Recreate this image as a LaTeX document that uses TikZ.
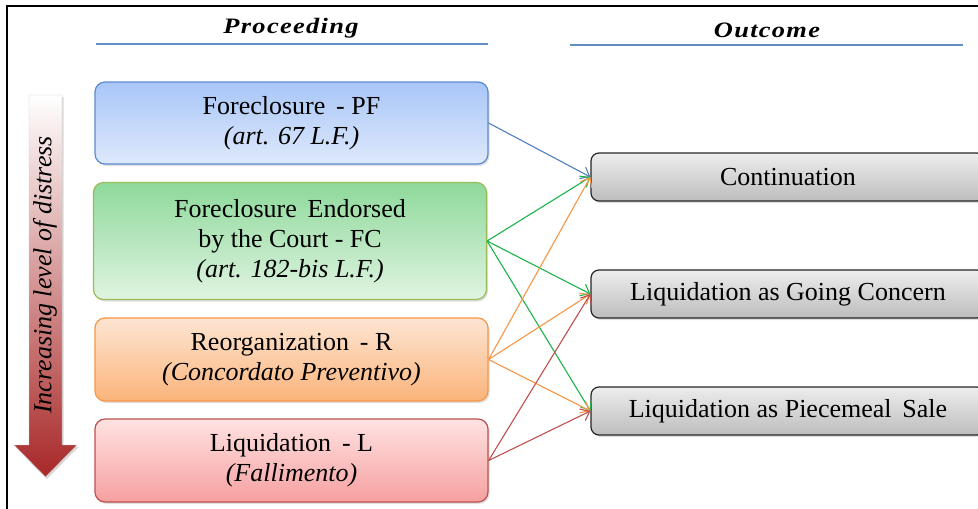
\documentclass[tikz,border=0pt]{standalone}
\usepackage{fontspec}
\setmainfont{Liberation Serif}
\usetikzlibrary{arrows.meta,shadows}
\definecolor{pfB}{HTML}{5B8BD0}
\definecolor{pfT}{HTML}{A8C6F7}
\definecolor{pfD}{HTML}{DEE9FC}
\definecolor{fcB}{HTML}{9BBB59}
\definecolor{fcT}{HTML}{8ED99B}
\definecolor{fcD}{HTML}{E0F4E1}
\definecolor{rB}{HTML}{F79646}
\definecolor{rT}{HTML}{FDE5D2}
\definecolor{rD}{HTML}{FBB47B}
\definecolor{lB}{HTML}{C0504D}
\definecolor{lT}{HTML}{FFE2E2}
\definecolor{lD}{HTML}{F6A0A0}
\definecolor{blueA}{HTML}{4F81BD}
\definecolor{greenA}{HTML}{1DB34A}
\definecolor{orangeA}{HTML}{F79646}
\definecolor{redA}{HTML}{C0504D}
\definecolor{darkR}{HTML}{A82828}
\tikzset{
  procbox/.style={rounded corners=10pt, line width=1.2pt, minimum width=393pt, align=center,
    font=\fontsize{26}{30}\selectfont, inner sep=0pt,
    drop shadow={opacity=0.25, shadow xshift=1.5pt, shadow yshift=-2pt}},
  outbox/.style={rounded corners=8pt, line width=1.2pt, draw=black!85, minimum width=394pt, minimum height=48pt,
    top color=black!7, bottom color=black!26, font=\fontsize{26}{30}\selectfont, inner sep=0pt,
    drop shadow={opacity=0.25, shadow xshift=1.5pt, shadow yshift=-2pt}},
  conn/.style={line width=1.1pt, -{Straight Barb[length=8pt,width=13pt]}},
  heading/.style={font=\fontsize{22}{26}\selectfont\bfseries\itshape\addfontfeature{LetterSpace=5},
    xscale=1.2, transform shape},
  rule/.style={line width=1.2pt, draw=blueA!90}
}
\begin{document}
\begin{tikzpicture}[x=1pt,y=-1pt]
\useasboundingbox (0,0) rectangle (978,509);
\clip (0,0) rectangle (978,509);
\fill[white] (0,0) rectangle (978,509);
% frame
\draw[line width=1.5pt] (7,512) -- (7,6) -- (980,6);
% headings
\node[heading] (hp) at (291,28) {Proceeding};
\node[heading] (ho) at (767,30) {Outcome};
\draw[rule] (96,44) -- (488,44);
\draw[rule] (570,45) -- (963,45);
% proceeding boxes
\node[procbox, draw=pfB, top color=pfT, bottom color=pfD, minimum height=82pt] (pf) at (291.5,123)
  {Foreclosure\, - PF\\\textit{(art. 67 L.F.)}};
\node[procbox, draw=fcB, top color=fcT, bottom color=fcD, minimum height=117pt] (fc) at (290,241)
  {Foreclosure\, Endorsed\\by the Court - FC\\\textit{(art. 182-bis L.F.)}};
\node[procbox, draw=rB, top color=rT, bottom color=rD, minimum height=83pt] (r) at (291.5,359.5)
  {Reorganization\, - R\\\textit{(Concordato Preventivo)}};
\node[procbox, draw=lB, top color=lT, bottom color=lD, minimum height=83pt] (l) at (291.5,460.5)
  {Liquidation\, - L\\\textit{(Fallimento)}};
% outcome boxes
\node[outbox] (c) at (788,177) {Continuation};
\node[outbox] (gc) at (788,294) {Liquidation as Going Concern};
\node[outbox] (ps) at (788,411) {Liquidation as Piecemeal\, Sale};
% connectors
\draw[conn, blueA] (pf.east) -- (c.west);
\draw[conn, greenA] (fc.east) -- (c.west);
\draw[conn, greenA] (fc.east) -- (gc.west);
\draw[conn, greenA] (fc.east) -- (ps.west);
\draw[conn, orangeA] (r.east) -- (c.west);
\draw[conn, orangeA] (r.east) -- (gc.west);
\draw[conn, orangeA] (r.east) -- (ps.west);
\draw[conn, redA] (l.east) -- (gc.west);
\draw[conn, redA] (l.east) -- (ps.west);
% distress arrow
\path[top color=white, bottom color=darkR, draw=black!20, line width=0.4pt,
  drop shadow={opacity=0.3, shadow xshift=1.5pt, shadow yshift=-2pt}]
  (29,95) -- (62,95) -- (62,445) -- (77,445) -- (45.5,477) -- (14,445) -- (29,445) -- cycle;
\node[rotate=90, font=\fontsize{26}{30}\selectfont\itshape] (dist) at (45,275) {Increasing level of distress};
\end{tikzpicture}
\end{document}
